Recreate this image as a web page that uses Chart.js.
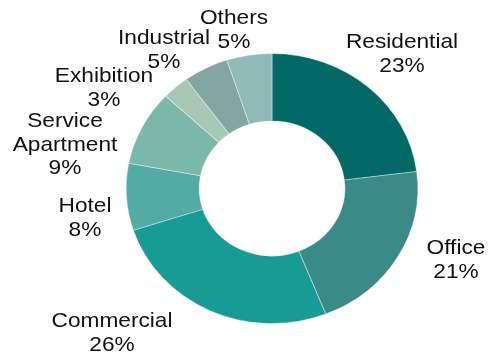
<!DOCTYPE html>
<html>
<head>
<meta charset="utf-8">
<script src="https://cdn.jsdelivr.net/npm/chart.js@4/dist/chart.umd.min.js"></script>
<style>
  html, body { margin: 0; padding: 0; background: #fff; }
  #wrap { width: 488px; height: 355px; position: relative; }
</style>
</head>
<body>
<div id="wrap"><canvas id="myChart" width="488" height="355"></canvas></div>
<script>
// segments, clockwise from 12 o'clock
const sectors = ['Residential', 'Office', 'Commercial', 'Hotel', 'Service Apartment', 'Exhibition', 'Industrial', 'Others'];
const shares = [23, 21, 26, 8, 9, 3, 5, 5];
const labelLines = [['Residential'], ['Office'], ['Commercial'], ['Hotel'], ['Service', 'Apartment'], ['Exhibition'], ['Industrial'], ['Others']];

const colors = ['#036967', '#3a8b87', '#189b94', '#54aaa4', '#7bb8aa', '#a8c8b3', '#83a6a2', '#8fbab8'];

// where each label's first baseline sits (centre x, baseline y)
const labelAt = [[402, 48], [456, 254], [112, 327], [85, 212], [65, 127], [104, 82], [164, 44], [234, 24]];

const ctxEl = document.getElementById('myChart');

// the whole figure is a little wider than tall
const stretchX = 1.08;
const widen = {
  id: 'widen',
  beforeDatasetsDraw(chart) {
    const arc = chart.getDatasetMeta(0).data[0];
    const c = chart.ctx;
    c.save();
    c.translate(arc.x, arc.y);
    c.scale(stretchX, 1);
    c.translate(-arc.x, -arc.y);
  },
  afterDatasetsDraw(chart) {
    chart.ctx.restore();
  }
};

const outLabels = {
  id: 'outLabels',
  afterDraw(chart) {
    const c = chart.ctx;
    c.fillStyle = '#111';
    c.font = '21px "Liberation Sans", Arial, sans-serif';
    c.textAlign = 'center';
    c.textBaseline = 'alphabetic';
    const lh = 23.5;
    shares.forEach((v, i) => {
      const lines = labelLines[i].concat([v + '%']);
      const [x, y] = labelAt[i];
      lines.forEach((t, k) => {
        c.save();
        c.translate(x, y + k * lh);
        c.scale(stretchX, 1);
        c.fillText(t, 0, 0);
        c.restore();
      });
    });
  }
};

const data = {
  labels: sectors,
  datasets: [{
    data: shares,
    backgroundColor: colors,
    borderColor: 'rgba(255,255,255,0.35)',
    borderWidth: 1
  }]
};

const config = {
  type: 'doughnut',
  data,
  options: {
    responsive: false,
    animation: false,
    cutout: '50%',
    layout: { padding: { top: 53, bottom: 31, left: 122, right: 66 } },
    plugins: {
      legend: { display: false },
      tooltip: { enabled: false }
    }
  },
  plugins: [widen, outLabels]
};

let myChart = new Chart(ctxEl, config);
</script>
</body>
</html>
